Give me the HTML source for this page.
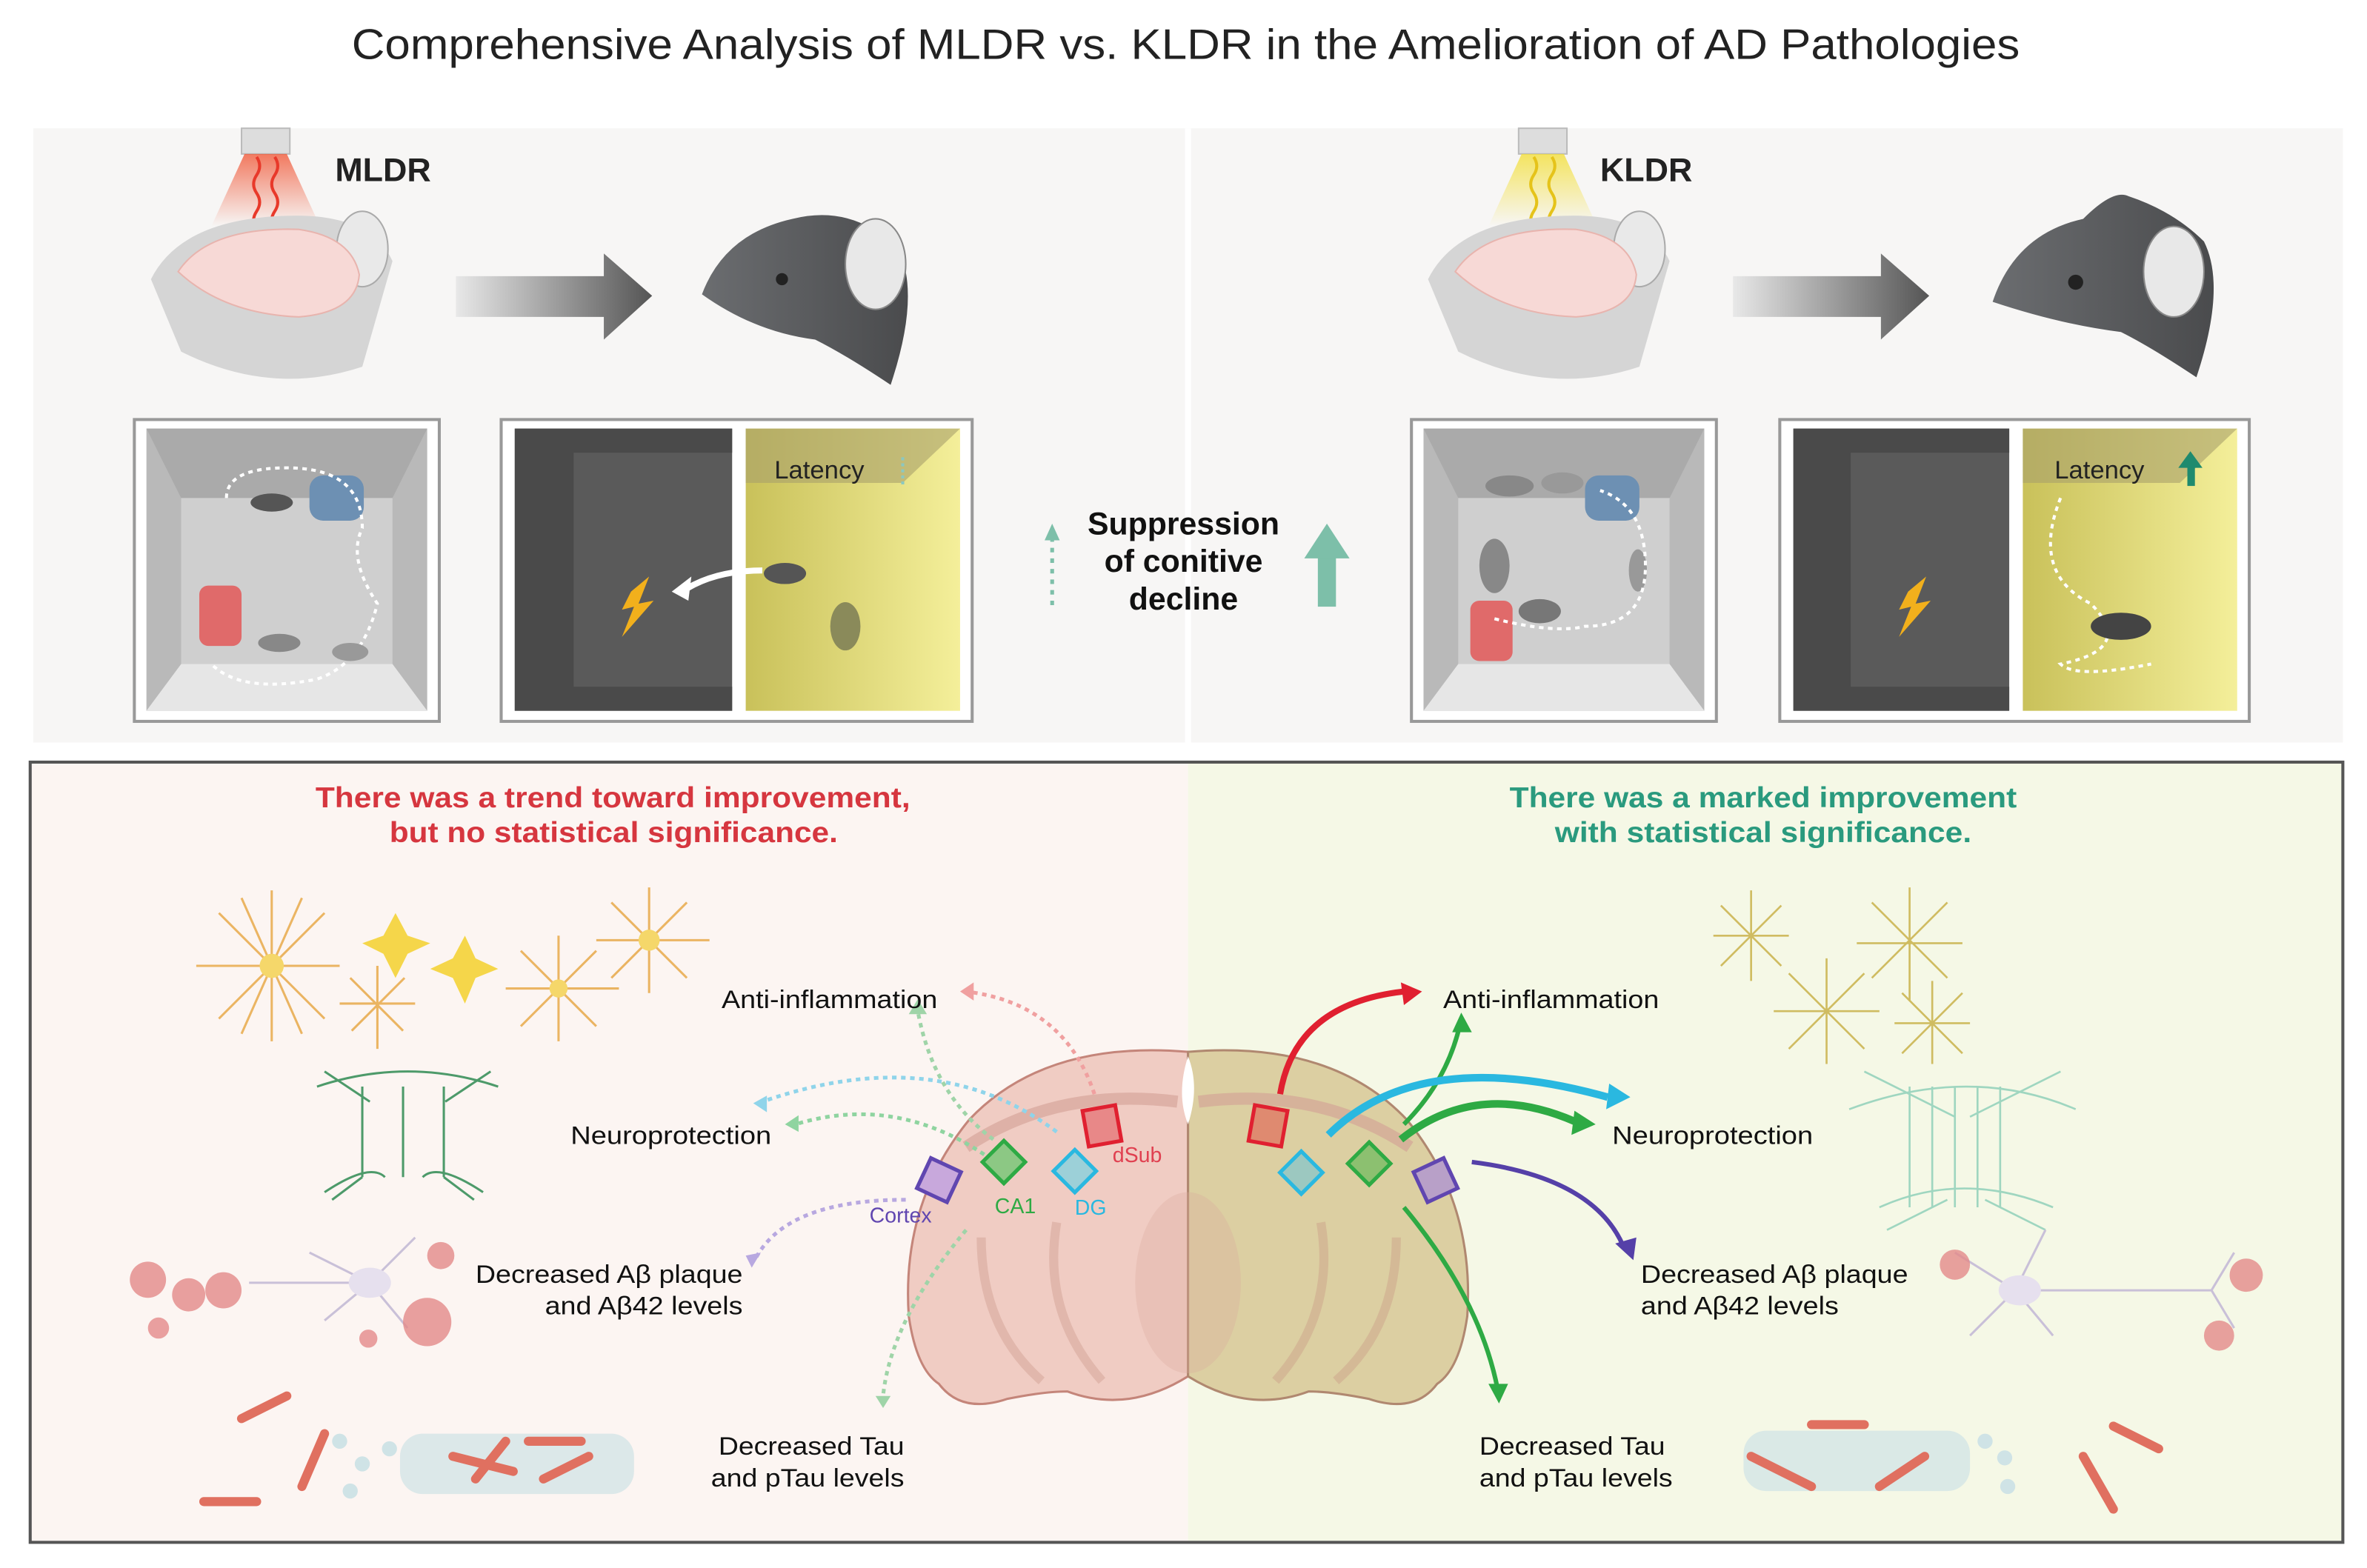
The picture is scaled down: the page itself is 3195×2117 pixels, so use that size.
<!DOCTYPE html>
<html><head><meta charset="utf-8"><style>
html,body{margin:0;padding:0;background:#fff;}
svg{display:block;}
text{font-family:"Liberation Sans",sans-serif;}
</style></head><body>
<svg width="3195" height="2117" viewBox="0 0 1568 1039" preserveAspectRatio="none" xmlns="http://www.w3.org/2000/svg">
<defs>
<linearGradient id="ar" x1="0" x2="1"><stop offset="0" stop-color="#e8e8e8"/><stop offset="1" stop-color="#555"/></linearGradient>
<linearGradient id="red" x1="0" y1="0" x2="0" y2="1"><stop offset="0" stop-color="#f05a3a"/><stop offset="1" stop-color="#f05a3a" stop-opacity="0"/></linearGradient>
<linearGradient id="yel" x1="0" y1="0" x2="0" y2="1"><stop offset="0" stop-color="#f3df3a"/><stop offset="1" stop-color="#f3df3a" stop-opacity="0"/></linearGradient>
<linearGradient id="ylw" x1="0" x2="1"><stop offset="0" stop-color="#c9c15a"/><stop offset="1" stop-color="#f4ef9a"/></linearGradient>
<linearGradient id="mh" x1="0" x2="1"><stop offset="0" stop-color="#6b6d70"/><stop offset="1" stop-color="#4a4b4d"/></linearGradient>
</defs>
<rect width="1568" height="1039" fill="#fff"/>
<text x="233" y="39" font-size="28" textLength="1105" lengthAdjust="spacingAndGlyphs" fill="#222">Comprehensive Analysis of MLDR vs. KLDR in the Amelioration of AD Pathologies</text>

<rect x="22" y="85" width="1530" height="407" fill="#f7f6f5"/>
<rect x="785" y="85" width="4" height="407" fill="#fff"/>

<!-- left light + mouse -->
<rect x="160" y="85" width="32" height="17" fill="#ddd" stroke="#bbb"/>
<polygon points="162,102 190,102 212,150 140,150" fill="url(#red)" opacity="0.8"/>
<path d="M170,104 q4,6 0,12 q-4,6 0,12 q4,6 0,12 q-4,6 0,12 M182,104 q4,6 0,12 q-4,6 0,12 q4,6 0,12 q-4,6 0,12" stroke="#e8392a" stroke-width="2" fill="none"/>
<path d="M100,185 q20,-40 90,-42 q55,-2 70,30 l-20,70 q-60,20 -120,-10 z" fill="#d5d5d5"/>
<ellipse cx="240" cy="165" rx="17" ry="25" fill="#e9e9e9" stroke="#aaa"/>
<path d="M118,180 q20,-30 80,-28 q35,5 40,30 q-2,25 -40,28 q-50,-2 -80,-30z" fill="#f7d9d6" stroke="#e8b4ae"/>
<path d="M302,183 h98 v-15 l32,28 l-32,29 v-15 h-98z" fill="url(#ar)"/>
<path d="M465,195 q15,-40 60,-50 q40,-10 70,20 q15,30 -5,90 q-30,-20 -50,-30 q-40,-5 -75,-30z" fill="url(#mh)"/>
<ellipse cx="580" cy="175" rx="20" ry="30" fill="#e8e8e8" stroke="#888"/>
<circle cx="518" cy="185" r="4" fill="#222"/>
<text x="222" y="120" font-size="22" font-weight="bold" fill="#222">MLDR</text>

<!-- right light + mouse -->
<rect x="1006" y="85" width="32" height="17" fill="#ddd" stroke="#bbb"/>
<polygon points="1008,102 1036,102 1058,150 986,150" fill="url(#yel)" opacity="0.8"/>
<path d="M1016,104 q4,6 0,12 q-4,6 0,12 q4,6 0,12 q-4,6 0,12 M1028,104 q4,6 0,12 q-4,6 0,12 q4,6 0,12 q-4,6 0,12" stroke="#e5c31a" stroke-width="2" fill="none"/>
<path d="M946,185 q20,-40 90,-42 q55,-2 70,30 l-20,70 q-60,20 -120,-10 z" fill="#d5d5d5"/>
<ellipse cx="1086" cy="165" rx="17" ry="25" fill="#e9e9e9" stroke="#aaa"/>
<path d="M964,180 q20,-30 80,-28 q35,5 40,30 q-2,25 -40,28 q-50,-2 -80,-30z" fill="#f7d9d6" stroke="#e8b4ae"/>
<path d="M1148,183 h98 v-15 l32,28 l-32,29 v-15 h-98z" fill="url(#ar)"/>
<path d="M1320,200 q15,-45 60,-55 q20,-20 30,-15 q30,10 50,30 q15,30 -5,90 q-30,-20 -50,-30 q-40,-5 -85,-20z" fill="url(#mh)"/>
<ellipse cx="1440" cy="180" rx="20" ry="30" fill="#e8e8e8" stroke="#888"/>
<circle cx="1375" cy="187" r="5" fill="#222"/>
<text x="1060" y="120" font-size="22" font-weight="bold" fill="#222">KLDR</text>

<!-- open field left -->
<g>
<rect x="89" y="278" width="202" height="200" fill="#fff" stroke="#999" stroke-width="2"/>
<rect x="97" y="284" width="186" height="187" fill="#b9b9b9"/>
<polygon points="97,284 283,284 260,330 120,330" fill="#aaa"/>
<polygon points="97,471 283,471 260,440 120,440" fill="#e6e6e6"/>
<rect x="120" y="330" width="140" height="110" fill="#cfcfcf"/>
<rect x="205" y="315" width="36" height="30" rx="9" fill="#6d90b3"/>
<rect x="132" y="388" width="28" height="40" rx="6" fill="#e06a6a"/>
<path d="M150,330 q0,-20 40,-20 q50,0 50,40 q-10,20 10,50 q-10,40 -40,50 q-50,10 -70,-10" stroke="#fff" stroke-width="2" stroke-dasharray="3,3" fill="none"/>
<ellipse cx="180" cy="333" rx="14" ry="6" fill="#555"/>
<ellipse cx="185" cy="426" rx="14" ry="6" fill="#888"/>
<ellipse cx="232" cy="432" rx="12" ry="6" fill="#999"/>
</g>
<!-- passive avoidance left -->
<g>
<rect x="332" y="278" width="312" height="200" fill="#fff" stroke="#999" stroke-width="2"/>
<rect x="341" y="284" width="144" height="187" fill="#5a5a5a"/>
<polygon points="341,284 485,284 485,300 380,300 380,455 485,455 485,471 341,471" fill="#4a4a4a"/>
<rect x="494" y="284" width="142" height="187" fill="url(#ylw)"/>
<polygon points="494,284 636,284 598,320 494,320" fill="#a8a06a" opacity="0.6"/>
<text x="513" y="317" font-size="17" fill="#222">Latency</text>
<line x1="598" y1="303" x2="598" y2="322" stroke="#8cc8c0" stroke-width="2" stroke-dasharray="2,2"/>
<polygon points="418,392 430,382 423,400 433,398 412,422 420,402 412,404" fill="#f2b01c"/>
<path d="M505,378 q-30,0 -50,12" stroke="#fff" stroke-width="4" fill="none"/>
<polygon points="445,392 458,382 456,398" fill="#fff"/>
<ellipse cx="520" cy="380" rx="14" ry="7" fill="#555"/>
<ellipse cx="560" cy="415" rx="10" ry="16" fill="#8a8a5a"/>
</g>

<text font-size="21" font-weight="bold" fill="#111" text-anchor="middle"><tspan x="784" y="354">Suppression</tspan><tspan x="784" y="379">of conitive</tspan><tspan x="784" y="404">decline</tspan></text>
<line x1="697" y1="356" x2="697" y2="402" stroke="#7dbfa9" stroke-width="2.5" stroke-dasharray="3,4"/>
<polygon points="692,358 697,347 702,358" fill="#7dbfa9"/>
<rect x="873" y="368" width="12" height="34" fill="#7dbfa9"/>
<polygon points="864,370 879,347 894,370" fill="#7dbfa9"/>

<!-- open field right -->
<g>
<rect x="935" y="278" width="202" height="200" fill="#fff" stroke="#999" stroke-width="2"/>
<rect x="943" y="284" width="186" height="187" fill="#b9b9b9"/>
<polygon points="943,284 1129,284 1106,330 966,330" fill="#aaa"/>
<polygon points="943,471 1129,471 1106,440 966,440" fill="#e6e6e6"/>
<rect x="966" y="330" width="140" height="110" fill="#cfcfcf"/>
<rect x="1050" y="315" width="36" height="30" rx="9" fill="#6d90b3"/>
<rect x="974" y="398" width="28" height="40" rx="6" fill="#e06a6a"/>
<ellipse cx="1000" cy="322" rx="16" ry="7" fill="#888"/>
<ellipse cx="1035" cy="320" rx="14" ry="7" fill="#999"/>
<ellipse cx="990" cy="375" rx="10" ry="18" fill="#888"/>
<ellipse cx="1020" cy="405" rx="14" ry="8" fill="#777"/>
<ellipse cx="1085" cy="378" rx="6" ry="14" fill="#999"/>
<path d="M990,410 q40,10 60,5 q40,0 40,-40 q0,-40 -30,-50" stroke="#fff" stroke-width="2" stroke-dasharray="3,3" fill="none"/>
</g>
<g>
<rect x="1179" y="278" width="311" height="200" fill="#fff" stroke="#999" stroke-width="2"/>
<rect x="1188" y="284" width="143" height="187" fill="#5a5a5a"/>
<polygon points="1188,284 1331,284 1331,300 1226,300 1226,455 1331,455 1331,471 1188,471" fill="#4a4a4a"/>
<rect x="1340" y="284" width="142" height="187" fill="url(#ylw)"/>
<polygon points="1340,284 1482,284 1444,320 1340,320" fill="#a8a06a" opacity="0.6"/>
<text x="1361" y="317" font-size="17" fill="#222">Latency</text>
<rect x="1449" y="308" width="5" height="14" fill="#1f8a6e"/>
<polygon points="1443,310 1451,299 1459,310" fill="#1f8a6e"/>
<polygon points="1264,392 1276,382 1269,400 1279,398 1258,422 1266,402 1258,404" fill="#f2b01c"/>
<path d="M1365,330 q-20,50 20,70 q30,30 -20,40 q10,10 60,0" stroke="#fff" stroke-width="2" stroke-dasharray="3,3" fill="none"/>
<ellipse cx="1405" cy="415" rx="20" ry="9" fill="#444"/>
</g>

<!-- bottom panel -->
<rect x="20" y="505" width="767" height="517" fill="#fcf5f2"/>
<rect x="787" y="505" width="765" height="517" fill="#f5f8e6"/>
<rect x="20" y="505" width="1532" height="517" fill="none" stroke="#555" stroke-width="2"/>
<text font-size="19" font-weight="bold" fill="#d6363f"><tspan x="209" y="535" textLength="394" lengthAdjust="spacingAndGlyphs">There was a trend toward improvement,</tspan><tspan x="258" y="558" textLength="297" lengthAdjust="spacingAndGlyphs">but no statistical significance.</tspan></text>
<text font-size="19" font-weight="bold" fill="#2a9a7e"><tspan x="1000" y="535" textLength="336" lengthAdjust="spacingAndGlyphs">There was a marked improvement</tspan><tspan x="1030" y="558" textLength="276" lengthAdjust="spacingAndGlyphs">with statistical significance.</tspan></text>

<!-- left cells -->
<g stroke="#e8a94a" stroke-width="1.5" fill="none" opacity="0.85">
<path d="M180,590 l0,100 M130,640 l95,0 M145,605 l70,70 M215,605 l-70,70 M160,595 l40,90 M200,595 l-40,90"/>
<path d="M430,588 l0,70 M395,623 l75,0 M405,598 l50,50 M455,598 l-50,50"/>
<path d="M370,620 l0,70 M335,655 l75,0 M345,630 l50,50 M395,630 l-50,50"/>
<path d="M250,640 l0,55 M225,665 l50,0 M232,648 l35,35 M268,648 l-35,35"/>
</g>
<circle cx="180" cy="640" r="8" fill="#f5d76a"/>
<circle cx="430" cy="623" r="7" fill="#f5d76a"/>
<circle cx="370" cy="655" r="6" fill="#f5d76a"/>
<polygon points="262,605 270,620 285,625 270,632 262,648 254,632 240,625 254,620" fill="#f5d64a"/>
<polygon points="308,620 315,635 330,642 315,648 308,665 300,648 285,642 300,635" fill="#f5d64a"/>
<g stroke="#4d9a6a" stroke-width="1.5" fill="none">
<path d="M240,720 l0,60 M267,720 l0,60 M294,720 l0,60 M210,720 q60,-20 120,0 M215,710 l30,20 M325,710 l-30,20 M215,790 q30,-20 40,-10 M320,790 q-30,-20 -40,-10 M240,780 l-20,15 M294,780 l20,15"/>
</g>
<g stroke="#c9c0d8" stroke-width="1.5" fill="none"><path d="M245,850 l-40,-20 M245,850 l-30,25 M245,850 l30,-30 M245,850 l25,30 M245,850 l-80,0"/></g>
<ellipse cx="245" cy="850" rx="14" ry="10" fill="#e6e0ee"/>
<g fill="#e48a8a" opacity="0.8"><circle cx="98" cy="848" r="12"/><circle cx="125" cy="858" r="11"/><circle cx="148" cy="855" r="12"/><circle cx="105" cy="880" r="7"/><circle cx="283" cy="876" r="16"/><circle cx="292" cy="832" r="9"/><circle cx="244" cy="887" r="6"/></g>
<g fill="#cfe3e6"><rect x="265" y="950" width="155" height="40" rx="15" opacity="0.7"/><circle cx="225" cy="955" r="5"/><circle cx="240" cy="970" r="5"/><circle cx="232" cy="988" r="5"/><circle cx="258" cy="960" r="5"/></g>
<g stroke="#e07060" stroke-width="6" stroke-linecap="round"><path d="M160,940 l30,-15 M135,995 l35,0 M200,985 l15,-35 M300,965 l40,10 M350,955 l35,0 M360,980 l30,-15 M315,980 l20,-25"/></g>

<!-- right cells -->
<g stroke="#c9b24a" stroke-width="1.3" fill="none" opacity="0.85">
<path d="M1160,590 l0,60 M1135,620 l50,0 M1140,600 l40,40 M1180,600 l-40,40"/>
<path d="M1265,588 l0,75 M1230,625 l70,0 M1240,598 l50,50 M1290,598 l-50,50"/>
<path d="M1210,635 l0,70 M1175,670 l70,0 M1185,645 l50,50 M1235,645 l-50,50"/>
<path d="M1280,650 l0,55 M1255,678 l50,0 M1260,658 l40,40 M1300,658 l-40,40"/>
</g>
<g stroke="#9fd6c0" stroke-width="1.3" fill="none">
<path d="M1265,720 l0,80 M1280,720 l0,80 M1295,720 l0,80 M1310,720 l0,80 M1325,720 l0,80 M1225,735 q80,-30 150,0 M1235,710 l60,30 M1365,710 l-60,30 M1245,800 q55,-25 115,0 M1250,815 l40,-20 M1355,815 l-40,-20"/>
</g>
<g stroke="#c9c0d8" stroke-width="1.5" fill="none"><path d="M1335,855 l-40,-25 M1335,855 l-30,30 M1335,855 l20,-40 M1335,855 l25,30 M1335,855 l130,0 M1465,855 l15,-25 M1465,855 l15,25"/></g>
<ellipse cx="1338" cy="855" rx="14" ry="10" fill="#e6e0ee"/>
<g fill="#e48a8a" opacity="0.8"><circle cx="1295" cy="838" r="10"/><circle cx="1488" cy="845" r="11"/><circle cx="1470" cy="885" r="10"/></g>
<g fill="#cfe3e6"><rect x="1155" y="948" width="150" height="40" rx="15" opacity="0.7"/><circle cx="1315" cy="955" r="5"/><circle cx="1328" cy="966" r="5"/><circle cx="1330" cy="985" r="5"/></g>
<g stroke="#e07060" stroke-width="6" stroke-linecap="round"><path d="M1200,944 l35,0 M1160,965 l40,20 M1245,985 l30,-20 M1400,945 l30,15 M1380,965 l20,35"/></g>

<!-- brain -->
<path d="M787,697 q-95,-8 -145,45 q-45,55 -40,130 q5,35 20,45 q15,20 45,10 q25,-5 40,-5 q40,15 80,-10 z" fill="#f0ccc3" stroke="#c4857a" stroke-width="1.5"/>
<path d="M787,697 q95,-8 145,45 q45,55 40,130 q-5,35 -20,45 q-15,20 -45,10 q-25,-5 -40,-5 q-40,15 -80,-10 z" fill="#dccfa2" stroke="#b08870" stroke-width="1.5"/>
<path d="M640,760 q60,-40 140,-30 M934,760 q-60,-40 -140,-30" stroke="#d29f94" stroke-width="8" fill="none" opacity="0.6"/>
<path d="M650,820 q0,60 40,95 M925,820 q0,60 -40,95 M700,810 q-10,60 30,105 M875,810 q10,60 -30,105" stroke="#c79080" stroke-width="6" fill="none" opacity="0.35"/>
<ellipse cx="787" cy="850" rx="35" ry="60" fill="#d9a99a" opacity="0.3"/>
<path d="M787,700 q-8,25 0,45 q8,-25 0,-45z" fill="#fff"/>

<!-- left dashed arrows -->
<g fill="none" stroke-width="2.5" stroke-dasharray="3,3">
<path d="M725,725 q-20,-60 -85,-68" stroke="#f0a0a0"/>
<path d="M658,755 q-40,-30 -50,-85" stroke="#9fd4a8"/>
<path d="M700,750 q-80,-60 -195,-20" stroke="#8fd4ea"/>
<path d="M652,765 q-60,-40 -125,-20" stroke="#8fd4a0"/>
<path d="M600,795 q-80,0 -100,40" stroke="#b8a8e0"/>
<path d="M640,815 q-50,60 -55,110" stroke="#9fd4a8"/>
</g>
<polygon points="636,657 645,651 645,663" fill="#f0a0a0"/>
<polygon points="602,672 608,662 614,672" fill="#9fd4a8"/>
<polygon points="499,731 508,726 508,737" fill="#8fd4ea"/>
<polygon points="520,745 529,739 529,750" fill="#8fd4a0"/>
<polygon points="494,832 504,830 498,840" fill="#b8a8e0"/>
<polygon points="580,925 590,925 585,933" fill="#9fd4a8"/>

<!-- right solid arrows -->
<g fill="none">
<path d="M848,725 q10,-60 82,-68" stroke="#e02030" stroke-width="4"/>
<path d="M930,745 q30,-30 38,-70" stroke="#2eaa44" stroke-width="3"/>
<path d="M880,752 q60,-60 185,-25" stroke="#2ab8e0" stroke-width="5"/>
<path d="M928,755 q50,-40 115,-12" stroke="#2eaa44" stroke-width="5"/>
<path d="M975,770 q80,10 100,55" stroke="#5540a8" stroke-width="3"/>
<path d="M930,800 q50,60 62,120" stroke="#2eaa44" stroke-width="3"/>
</g>
<polygon points="942,657 928,651 930,666" fill="#e02030"/>
<polygon points="968,671 962,684 975,684" fill="#2eaa44"/>
<polygon points="1080,727 1066,718 1064,735" fill="#2ab8e0"/>
<polygon points="1057,745 1043,736 1041,752" fill="#2eaa44"/>
<polygon points="1082,835 1070,824 1084,820" fill="#5540a8"/>
<polygon points="993,930 986,917 999,917" fill="#2eaa44"/>

<!-- diamonds -->
<g stroke-width="2.5">
<rect x="611" y="771" width="22" height="22" fill="#c8a8dc" stroke="#6046b0" transform="rotate(25 622 782)"/>
<rect x="655" y="760" width="20" height="20" fill="#8cc884" stroke="#2eaa44" transform="rotate(45 665 770)"/>
<rect x="702" y="766" width="20" height="20" fill="#9cd0d8" stroke="#2ab8e0" transform="rotate(45 712 776)"/>
<rect x="719" y="734" width="22" height="24" fill="#e88888" stroke="#e02030" transform="rotate(-10 730 746)"/>
<rect x="829" y="734" width="22" height="24" fill="#df8a70" stroke="#e02030" transform="rotate(10 840 746)"/>
<rect x="852" y="767" width="20" height="20" fill="#9cc8c0" stroke="#2ab8e0" transform="rotate(45 862 777)"/>
<rect x="897" y="761" width="20" height="20" fill="#8cc070" stroke="#2eaa44" transform="rotate(45 907 771)"/>
<rect x="940" y="771" width="22" height="22" fill="#b8a0c8" stroke="#6046b0" transform="rotate(-25 951 782)"/>
</g>
<text x="737" y="770" font-size="14" fill="#e04050">dSub</text>
<text x="576" y="810" font-size="14" fill="#6046b0">Cortex</text>
<text x="659" y="804" font-size="14" fill="#2eaa44">CA1</text>
<text x="712" y="805" font-size="14" fill="#2ab8e0">DG</text>

<!-- labels -->
<g font-size="17" fill="#111">
<text x="478" y="668" textLength="143" lengthAdjust="spacingAndGlyphs">Anti-inflammation</text>
<text x="378" y="758" textLength="133" lengthAdjust="spacingAndGlyphs">Neuroprotection</text>
<text x="315" y="850" textLength="177" lengthAdjust="spacingAndGlyphs">Decreased Aβ plaque</text>
<text x="361" y="871" textLength="131" lengthAdjust="spacingAndGlyphs">and Aβ42 levels</text>
<text x="476" y="964" textLength="123" lengthAdjust="spacingAndGlyphs">Decreased Tau</text>
<text x="471" y="985" textLength="128" lengthAdjust="spacingAndGlyphs">and pTau levels</text>
<text x="956" y="668" textLength="143" lengthAdjust="spacingAndGlyphs">Anti-inflammation</text>
<text x="1068" y="758" textLength="133" lengthAdjust="spacingAndGlyphs">Neuroprotection</text>
<text x="1087" y="850" textLength="177" lengthAdjust="spacingAndGlyphs">Decreased Aβ plaque</text>
<text x="1087" y="871" textLength="131" lengthAdjust="spacingAndGlyphs">and Aβ42 levels</text>
<text x="980" y="964" textLength="123" lengthAdjust="spacingAndGlyphs">Decreased Tau</text>
<text x="980" y="985" textLength="128" lengthAdjust="spacingAndGlyphs">and pTau levels</text>
</g>
</svg>
</body></html>
